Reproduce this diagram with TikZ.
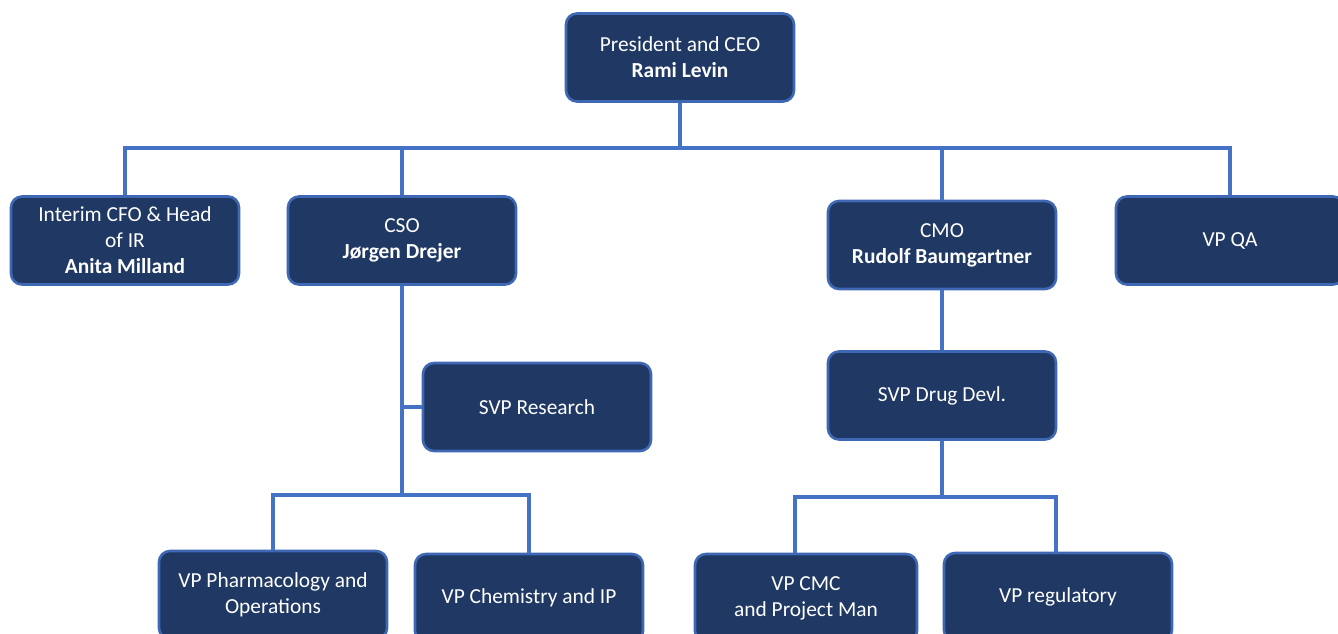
\documentclass[tikz,border=0pt]{standalone}
\usepackage{fontspec}
\setmainfont{Carlito}
\definecolor{boxfill}{HTML}{203864}
\definecolor{boxline}{HTML}{3F68B4}
\definecolor{conn}{HTML}{4472C4}
\begin{document}
\begin{tikzpicture}[x=1pt,y=-1pt,
  orgbox/.style={draw=boxline,line width=2.6pt,fill=boxfill,rounded corners=11pt,
    minimum width=228pt,minimum height=88pt,text=white,align=center,
    font=\fontsize{21.4}{26}\selectfont,inner sep=2pt},
  link/.style={draw=conn,line width=3.2pt}]
\useasboundingbox (0,0) rectangle (1338,634);
\fill[white] (0,0) rectangle (1338,634);
\node[orgbox] (ceo) at (680,57.5) {President and CEO\\\textbf{Rami Levin}};
\node[orgbox] (cfo) at (125,240.5) {Interim CFO \& Head\\of IR\\\textbf{Anita Milland}};
\node[orgbox] (cso) at (402,240.5) {CSO\\\textbf{Jørgen Drejer}};
\node[orgbox] (cmo) at (942,245) {CMO\\\textbf{Rudolf Baumgartner}};
\node[orgbox] (qa) at (1230,240.5) {VP QA};
\node[orgbox] (svpr) at (537,407) {SVP Research};
\node[orgbox] (svpd) at (942,395.5) {SVP Drug Devl.};
\node[orgbox] (pharm) at (273,595) {VP Pharmacology and\\Operations};
\node[orgbox] (chem) at (529,598) {VP Chemistry and IP};
\node[orgbox,minimum width=222pt] (cmc) at (806,598) {VP CMC\\and Project Man};
\node[orgbox] (reg) at (1058,597) {VP regulatory};
% top level
\coordinate (hub) at (680,148);
\draw[link] (ceo.south) -- (hub);
\draw[link] (cfo.north) |- (hub) -| (qa.north);
\draw[link] (cso.north) -- (cso.north |- hub);
\draw[link] (cmo.north) -- (cmo.north |- hub);
% CSO branch
\coordinate (csohub) at (402,495);
\draw[link] (cso.south) -- (csohub);
\draw[link] (402,407) -- (svpr.west);
\draw[link] (pharm.north) |- (csohub) -| (chem.north);
% CMO branch
\draw[link] (cmo.south) -- (svpd.north);
\coordinate (cmohub) at (942,497);
\draw[link] (svpd.south) -- (cmohub);
\draw[link] (795,553) |- (cmohub) -| (1056,553);
\end{tikzpicture}
\end{document}
